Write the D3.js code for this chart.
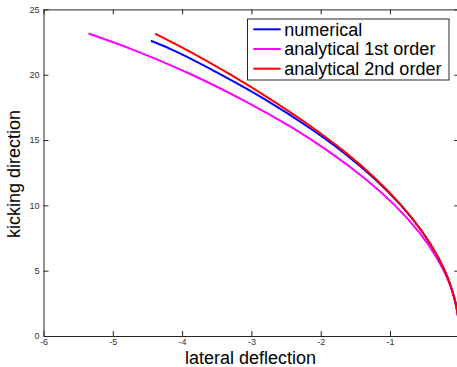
<!DOCTYPE html>
<html>
<head>
<meta charset="utf-8">
<script src="https://cdn.jsdelivr.net/npm/d3@7"></script>
<style>
  body { margin: 0; background: #fff; }
  svg { display: block; font-family: "Liberation Sans", Arial, sans-serif; }
</style>
</head>
<body>
<svg id="chart" width="457" height="367"></svg>
<script>
// values
var kickY = [0, 1, 2, 3, 4, 5, 6, 8, 10, 12, 14, 16, 18, 20, 22];

var numericalX = [0, -0.0084, -0.0337, -0.0758, -0.1347, -0.2104, -0.303, -0.539, -0.842, -1.215, -1.66, -2.18, -2.77, -3.44, -4.18];
var numericalEnd = [-4.45, 22.6];

var firstOrderX = [0, -0.0086, -0.035, -0.079, -0.142, -0.225, -0.327, -0.59, -0.93, -1.35, -1.85, -2.43, -3.10, -3.86, -4.75];
var firstOrderEnd = [-5.35, 23.15];

var secondOrderX = [0, -0.0084, -0.0337, -0.0757, -0.1345, -0.210, -0.302, -0.536, -0.836, -1.20, -1.63, -2.13, -2.69, -3.30, -3.97];
var secondOrderEnd = [-4.39, 23.15];

var seriesNames = ["numerical", "analytical 1st order", "analytical 2nd order"];
var seriesColors = ["#0000ff", "#ff00ff", "#ff0000"];

var xTicks = [-6, -5, -4, -3, -2, -1, 0];
var yTicks = [0, 5, 10, 15, 20, 25];

function toPoints(xs, end) {
  var pts = xs.map(function(x, i) { return [x, kickY[i]]; });
  pts.push(end);
  return pts;
}

var series = [
  toPoints(numericalX, numericalEnd),
  toPoints(firstOrderX, firstOrderEnd),
  toPoints(secondOrderX, secondOrderEnd)
];

var svg = d3.select("#chart");

var x = d3.scaleLinear().domain([-6, 0]).range([43.5, 459.3]);
var y = d3.scaleLinear().domain([0, 25]).range([336, 9.4]);

var axisColor = "#262626";
var fmt = function(d) { return String(d); };

function styleAxis(g) {
  g.select(".domain").attr("stroke", axisColor).attr("stroke-width", 1);
  g.selectAll(".tick line").attr("stroke", axisColor);
  g.selectAll(".tick text").attr("fill", "#333").attr("font-size", 9)
    .attr("font-family", "Liberation Sans, Arial, sans-serif");
}

svg.append("g")
  .attr("transform", "translate(0," + y(0) + ")")
  .call(d3.axisBottom(x).tickValues(xTicks).tickFormat(fmt).tickSizeInner(-5).tickSizeOuter(0).tickPadding(3))
  .call(styleAxis);

svg.append("g")
  .attr("transform", "translate(0," + y(25) + ")")
  .call(d3.axisTop(x).tickValues(xTicks).tickFormat("").tickSizeInner(-5).tickSizeOuter(0))
  .call(styleAxis);

svg.append("g")
  .attr("transform", "translate(" + x(-6) + ",0)")
  .call(d3.axisLeft(y).tickValues(yTicks).tickFormat(fmt).tickSizeInner(-5).tickSizeOuter(0).tickPadding(4))
  .call(styleAxis);

svg.append("g")
  .attr("transform", "translate(" + x(0) + ",0)")
  .call(d3.axisRight(y).tickValues(yTicks).tickFormat("").tickSizeInner(-5).tickSizeOuter(0))
  .call(styleAxis);

// curves
var line = d3.line()
  .x(function(d) { return x(d[0]); })
  .y(function(d) { return y(d[1]); })
  .curve(d3.curveMonotoneY);

svg.append("defs").append("clipPath").attr("id", "plot-clip")
  .append("rect")
  .attr("x", x(-6)).attr("y", y(25))
  .attr("width", x(0) - x(-6)).attr("height", y(0) - y(25));

var drawOrder = [1, 0, 2];
svg.append("g").attr("clip-path", "url(#plot-clip)")
  .selectAll("path").data(drawOrder)
  .enter().append("path")
  .attr("d", function(i) { return line(series[i]); })
  .attr("fill", "none")
  .attr("stroke", function(i) { return seriesColors[i]; })
  .attr("stroke-width", 2);

// legend
var legend = svg.append("g").attr("class", "legend");
legend.append("rect")
  .attr("x", 247.5).attr("y", 19)
  .attr("width", 201.5).attr("height", 61)
  .attr("fill", "#fff")
  .attr("stroke", axisColor)
  .attr("stroke-width", 1);

var entry = legend.selectAll(".entry").data(seriesNames)
  .enter().append("g")
  .attr("class", "entry")
  .attr("transform", function(d, i) { return "translate(0," + (29.3 + i * 19.7) + ")"; });

entry.append("line")
  .attr("x1", 253.3).attr("x2", 280.7)
  .attr("stroke", function(d, i) { return seriesColors[i]; })
  .attr("stroke-width", 2);

entry.append("text")
  .attr("x", 284.3).attr("y", 6.3)
  .attr("font-size", 18)
  .attr("fill", "#000")
  .text(function(d) { return d; });

// axis labels
svg.append("text")
  .attr("x", 250.5).attr("y", 364)
  .attr("text-anchor", "middle")
  .attr("font-size", 18)
  .attr("fill", "#000")
  .text("lateral deflection");

svg.append("text")
  .attr("transform", "translate(20,174) rotate(-90)")
  .attr("text-anchor", "middle")
  .attr("font-size", 18)
  .attr("fill", "#000")
  .text("kicking direction");
</script>
</body>
</html>
